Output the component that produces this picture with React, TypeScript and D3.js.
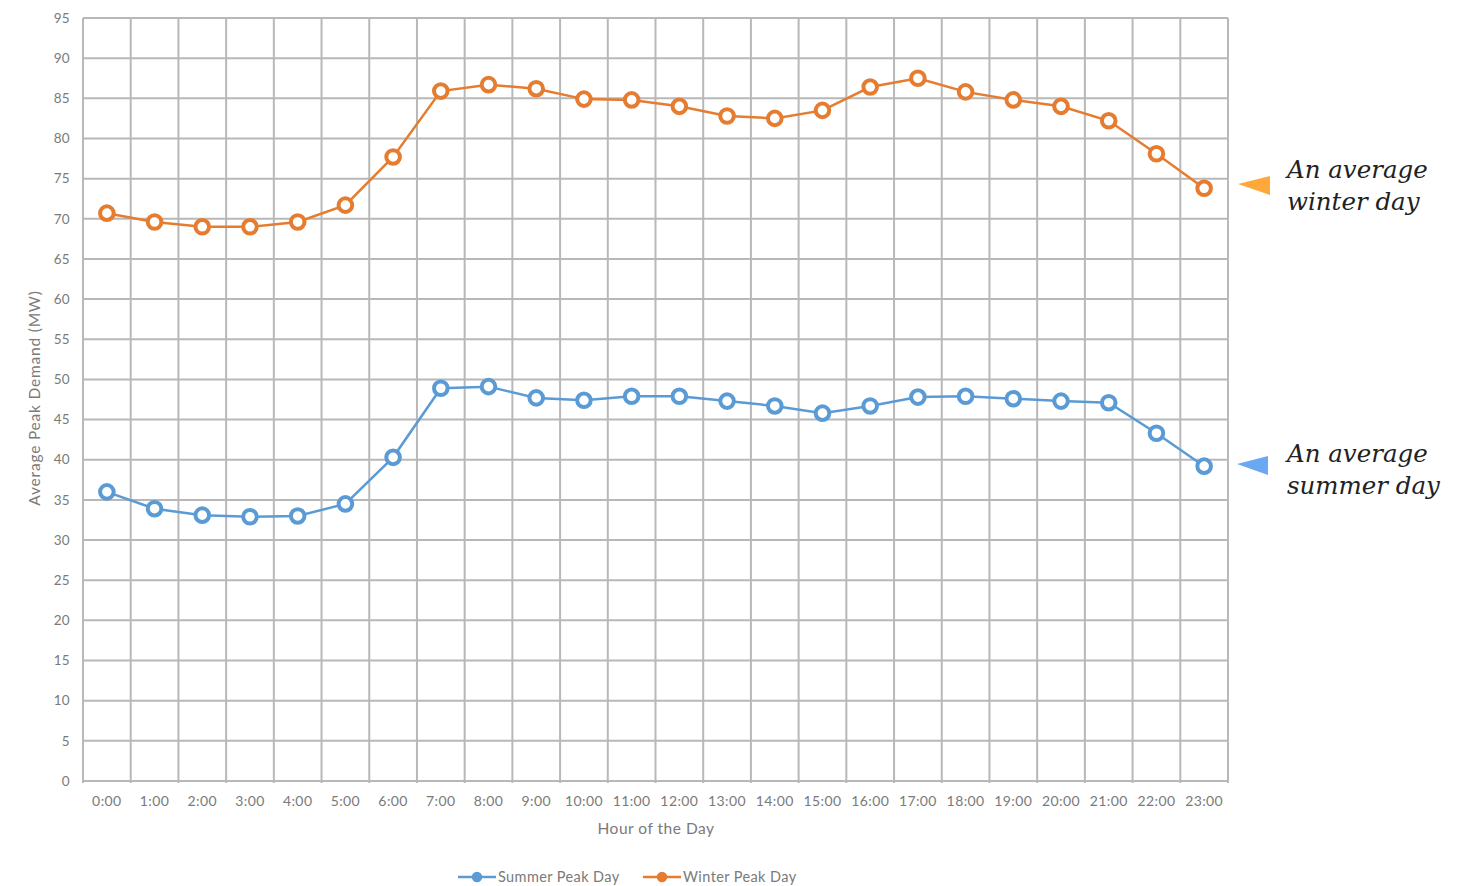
import React from "react";
import * as d3 from "d3";

const hours = ["0:00","1:00","2:00","3:00","4:00","5:00","6:00","7:00","8:00","9:00","10:00","11:00","12:00","13:00","14:00","15:00","16:00","17:00","18:00","19:00","20:00","21:00","22:00","23:00"];
const summerPeak = [36.0,33.9,33.1,32.9,33.0,34.5,40.3,48.9,49.1,47.7,47.4,47.9,47.9,47.3,46.7,45.8,46.7,47.8,47.9,47.6,47.3,47.1,43.3,39.2];
const winterPeak = [70.7,69.6,69.0,69.0,69.6,71.7,77.7,85.9,86.7,86.2,84.9,84.8,84.0,82.8,82.5,83.5,86.4,87.5,85.8,84.8,84.0,82.2,78.1,73.8];
const yTicks = d3.range(0, 100, 5);
const seriesNames = ["Summer Peak Day", "Winter Peak Day"];

const W = 1466, H = 886;
const left = 83, right = 1228, top = 18, bottom = 781;
const BLUE = "#5B9BD5";
const ORANGE = "#E57C30";
const GRID = "#b8b8b8";
const TXT = "#7a7a7a";
const FONT = "Lato, 'Open Sans', sans-serif";
const SERIF = "Georgia, 'DejaVu Serif', serif";

export default function App() {
  const x = d3.scaleBand<string>().domain(hours).range([left, right]);
  const y = d3.scaleLinear().domain([0, 95]).range([bottom, top]);
  const cx = (h: string) => (x(h) as number) + x.bandwidth() / 2;
  const line = d3.line<number>().x((_, i) => cx(hours[i])).y((v) => y(v));

  const series = [
    { name: seriesNames[0], data: summerPeak, color: BLUE },
    { name: seriesNames[1], data: winterPeak, color: ORANGE },
  ];
  const bounds = hours.map((h) => x(h) as number).concat([right]);

  return (
    <svg width={W} height={H} style={{ position: "absolute", left: 0, top: 0, background: "#fff" }}>
      <rect x={0} y={0} width={W} height={H} fill="#fff" />
      {yTicks.map((t) => (
        <line key={"h" + t} x1={left} x2={right} y1={y(t)} y2={y(t)} stroke={GRID} strokeWidth={2} />
      ))}
      {bounds.map((b, i) => (
        <line key={"v" + i} x1={b} x2={b} y1={top} y2={bottom + 2} stroke={GRID} strokeWidth={2} />
      ))}
      {yTicks.map((t) => (
        <text key={"yt" + t} x={70} y={y(t)} dy="0.35em" textAnchor="end" fontSize={13.5} fill={TXT} fontFamily={FONT} letterSpacing={0.3}>{t}</text>
      ))}
      {hours.map((h) => (
        <text key={"xt" + h} x={cx(h)} y={806} textAnchor="middle" fontSize={14} fill={TXT} fontFamily={FONT} letterSpacing={0.4}>{h}</text>
      ))}
      <text x={656} y={834} textAnchor="middle" fontSize={15.5} fill={TXT} fontFamily={FONT} letterSpacing={0.5}>Hour of the Day</text>
      <text transform={`translate(40,398) rotate(-90)`} textAnchor="middle" fontSize={15.5} fill={TXT} fontFamily={FONT} letterSpacing={0.8}>Average Peak Demand (MW)</text>

      {series.map((s) => (
        <g key={s.name}>
          <path d={line(s.data) || ""} fill="none" stroke={s.color} strokeWidth={2.5} />
          {s.data.map((v, i) => (
            <circle key={i} cx={cx(hours[i])} cy={y(v)} r={6.8} fill="#fff" stroke={s.color} strokeWidth={4} />
          ))}
        </g>
      ))}

      {/* legend */}
      {series.map((s, i) => {
        const lx = i === 0 ? 458 : 643;
        return (
          <g key={"lg" + i}>
            <line x1={lx} x2={lx + 38} y1={877} y2={877} stroke={s.color} strokeWidth={2.5} />
            <circle cx={lx + 19} cy={877} r={4.5} fill={s.color} stroke={s.color} strokeWidth={1.5} />
            <text x={lx + 40} y={877} dy="0.35em" fontSize={14.5} fill={TXT} fontFamily={FONT} letterSpacing={0.4}>{s.name}</text>
          </g>
        );
      })}

      {/* annotations */}
      <polygon points="1238,184 1270,176 1270,195" fill="#FFA83A" />
      <text x={1287} y={178} fontSize={24.5} fontStyle="italic" fill="#222" fontFamily={SERIF}>An average</text>
      <text x={1287} y={210} fontSize={24.5} fontStyle="italic" fill="#222" fontFamily={SERIF}>winter day</text>
      <polygon points="1237,464 1268,456 1268,475" fill="#6AA8F2" />
      <text x={1287} y={462} fontSize={24.5} fontStyle="italic" fill="#222" fontFamily={SERIF}>An average</text>
      <text x={1287} y={494} fontSize={24.5} fontStyle="italic" fill="#222" fontFamily={SERIF}>summer day</text>
    </svg>
  );
}
